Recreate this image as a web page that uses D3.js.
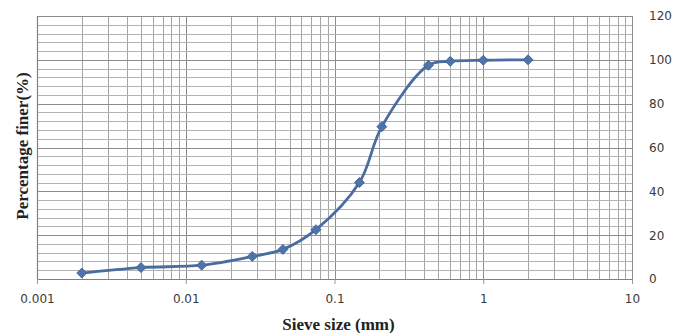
<!DOCTYPE html>
<html>
<head>
<meta charset="utf-8">
<script src="https://cdn.jsdelivr.net/npm/d3@7/dist/d3.min.js"></script>
<style>
  html, body { margin: 0; padding: 0; background: #fff; }
  svg { display: block; }
</style>
</head>
<body>
<svg id="chart" width="691" height="333"></svg>
<script>
// Grain-size distribution (sieve analysis)
const sieveSizes   = [0.002, 0.005, 0.0128, 0.028, 0.045, 0.075, 0.147, 0.208, 0.428, 0.6, 1.0, 2.0];
const percentFiner = [2.7, 5.2, 6.3, 10.3, 13.5, 22.5, 44, 69.5, 97.5, 99.3, 99.8, 100];
const xTickValues  = [0.001, 0.01, 0.1, 1, 10];
const xTickLabels  = ["0.001", "0.01", "0.1", "1", "10"];
const yTickValues  = [0, 20, 40, 60, 80, 100, 120];

const svg = d3.select("#chart");
const plotL = 37, plotR = 632, plotT = 16, plotB = 279;

const x = d3.scaleLog().domain([0.001, 10]).range([plotL, plotR]);
const y = d3.scaleLinear().domain([0, 120]).range([plotB, plotT]);

// vertical grid: every 1..9 × decade
const vLines = [];
for (let e = -3; e <= 0; e++) {
  for (let k = 1; k <= 9; k++) vLines.push(k * Math.pow(10, e));
}
vLines.push(10);
const isDecade = d => Math.abs(Math.log10(d) - Math.round(Math.log10(d))) < 1e-9;
svg.append("g").selectAll("line").data(vLines).join("line")
  .attr("x1", d => Math.round(x(d)) + 0.5).attr("x2", d => Math.round(x(d)) + 0.5)
  .attr("y1", plotT).attr("y2", plotB)
  .attr("stroke", d => isDecade(d) ? "#8c8c8c" : "#a6a6a6")
  .attr("stroke-width", 1);

// horizontal grid: every 4 %
const hLines = d3.range(0, 121, 4);
svg.append("g").selectAll("line").data(hLines).join("line")
  .attr("x1", plotL).attr("x2", plotR)
  .attr("y1", d => Math.round(y(d)) + 0.5).attr("y2", d => Math.round(y(d)) + 0.5)
  .attr("stroke", d => d % 20 === 0 ? "#8c8c8c" : "#b3b3b3")
  .attr("stroke-width", 1);

// axis frame
svg.append("line").attr("x1", plotL + 0.5).attr("x2", plotL + 0.5).attr("y1", plotT).attr("y2", plotB)
  .attr("stroke", "#808080").attr("stroke-width", 1.2);
svg.append("line").attr("x1", plotL).attr("x2", plotR).attr("y1", plotB + 0.5).attr("y2", plotB + 0.5)
  .attr("stroke", "#808080").attr("stroke-width", 1.2);

// x axis
const xAxis = d3.axisBottom(x)
  .tickValues(xTickValues)
  .tickFormat((d, i) => xTickLabels[i])
  .tickSize(5).tickPadding(10);
const gx = svg.append("g").attr("transform", `translate(0,${plotB})`).call(xAxis);
gx.select(".domain").remove();
gx.selectAll(".tick line").attr("stroke", "#999");
gx.selectAll("text").attr("font-family", "DejaVu Sans, sans-serif").attr("font-size", 12).attr("fill", "#3a3a3a");

// y axis on the right
const yAxis = d3.axisRight(y).tickValues(yTickValues).tickSize(0).tickPadding(17);
const gy = svg.append("g").attr("transform", `translate(${plotR},0)`).call(yAxis);
gy.select(".domain").remove();
gy.selectAll("text").attr("font-family", "DejaVu Sans, sans-serif").attr("font-size", 12).attr("fill", "#3a3a3a");

// axis titles
svg.append("text")
  .attr("x", (plotL + plotR) / 2 + 4).attr("y", 330)
  .attr("text-anchor", "middle")
  .attr("font-family", "Liberation Serif, serif").attr("font-weight", "bold").attr("font-size", 17)
  .attr("fill", "#222")
  .text("Sieve size (mm)");
svg.append("text")
  .attr("transform", "translate(28,146) rotate(-90)")
  .attr("text-anchor", "middle")
  .attr("font-family", "Liberation Serif, serif").attr("font-weight", "bold").attr("font-size", 17)
  .attr("fill", "#222")
  .text("Percentage finer(%)");

// curve
const data = sieveSizes.map((s, i) => ({ s, p: percentFiner[i] }));
const line = d3.line().x(d => x(d.s)).y(d => y(d.p)).curve(d3.curveCatmullRom.alpha(0.5));
svg.append("path").datum(data)
  .attr("d", line)
  .attr("fill", "none")
  .attr("stroke", "#4a6c9f")
  .attr("stroke-width", 2.8)
  .attr("stroke-linejoin", "round");

// diamond markers (square turned 45°)
const diamond = d3.symbol().type(d3.symbolSquare).size(50);
svg.append("g").selectAll("path").data(data).join("path")
  .attr("transform", d => `translate(${x(d.s)},${y(d.p)}) rotate(45)`)
  .attr("d", diamond)
  .attr("fill", "#4f74ab")
  .attr("stroke", "#3f5f8f")
  .attr("stroke-width", 0.8);
</script>
</body>
</html>
